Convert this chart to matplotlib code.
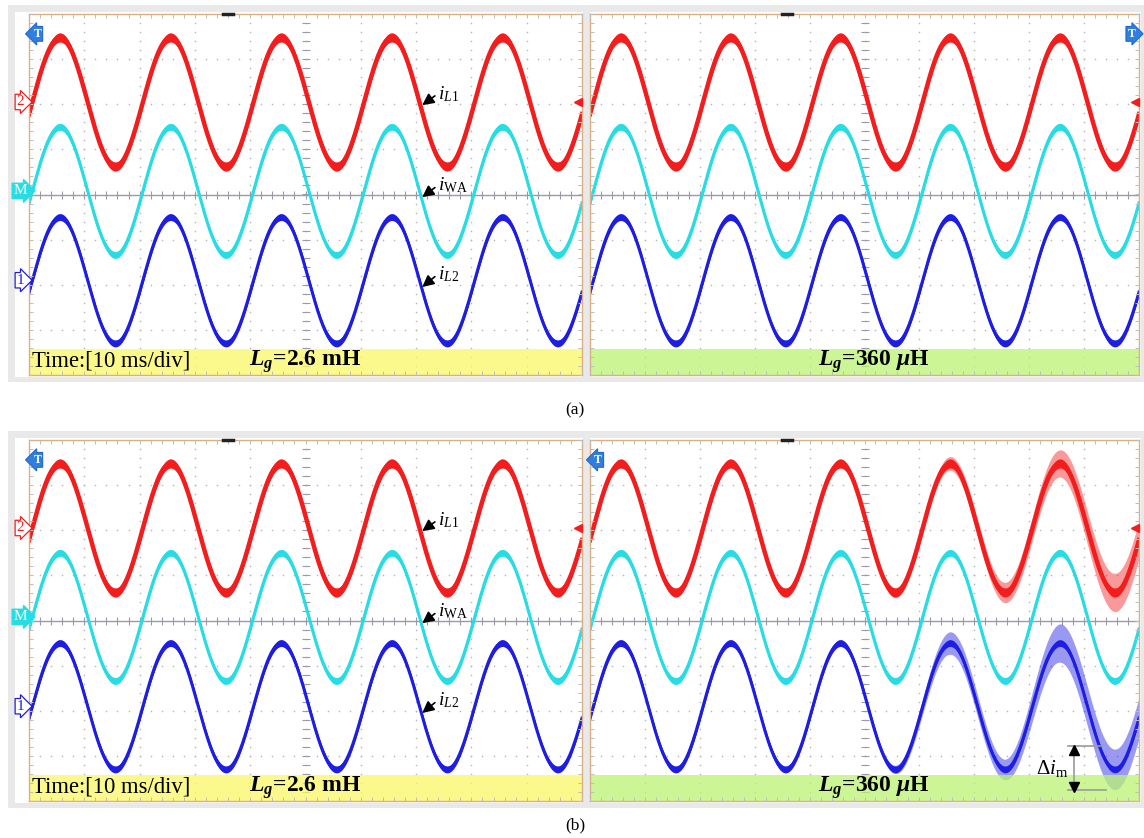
import numpy as np
import matplotlib.pyplot as plt
from matplotlib.patches import Rectangle

plt.rcParams['font.family'] = ['Liberation Serif', 'DejaVu Serif']
plt.rcParams['mathtext.fontset'] = 'custom'
plt.rcParams['mathtext.rm'] = 'Liberation Serif'
plt.rcParams['mathtext.it'] = 'Liberation Serif:italic'
plt.rcParams['mathtext.bf'] = 'Liberation Serif:italic:bold'

# scope settings: 10 ms/div, 10 x 8 divisions
screen_ms = 100
period_ms = 20.0          # 50 Hz grid current
first_peak_ms = 5.6

trace_labels = [r'$i_{L1}$', r'$i_{\mathrm{WA}}$', r'$i_{L2}$']
channel_tags = ['2', 'M', '1']
trace_colors = ['#f31d1d', '#27dde3', '#1d1de3']
trace_widths = [3.2, 2.2, 2.2]
amplitude_div = [1.43, 1.42, 1.40]
offset_div = [2.05, 0.08, -1.90]

# peak-to-peak switching ripple (div) at every peak / trough on the screen
extremum_ms = [5.6, 15.6, 25.6, 35.6, 45.6, 55.6, 65.6, 75.6, 85.6, 95.6]
ripple_iL1 = [0.20, 0.20, 0.20, 0.20, 0.20, 0.20, 0.20, 0.20, 0.20, 0.20]
ripple_iWA = [0.15, 0.15, 0.15, 0.15, 0.15, 0.15, 0.15, 0.15, 0.15, 0.15]
ripple_iL2 = [0.15, 0.15, 0.15, 0.15, 0.15, 0.15, 0.15, 0.15, 0.15, 0.15]
# case (b), Lg = 360 uH: ripple grows at the end of the record
ripple_b360_iL1 = [0.20, 0.20, 0.20, 0.20, 0.20, 0.22, 0.30, 0.45, 0.60, 0.85]
ripple_b360_iWA = [0.15, 0.15, 0.15, 0.15, 0.15, 0.15, 0.15, 0.15, 0.15, 0.15]
ripple_b360_iL2 = [0.15, 0.15, 0.15, 0.15, 0.15, 0.18, 0.50, 0.45, 0.85, 0.90]

inductance_labels = [r'$\mathbf{L_g}$=2.6 mH', r'$\mathbf{L_g}$=360 $\mathbf{\mu}$H']
bar_colors = ['#fbf866', '#bbf373']
panel_tags = ['(a)', '(b)']

W, H = 1144, 838
fig = plt.figure(figsize=(W / 100, H / 100), dpi=100)

bg = fig.add_axes([0, 0, 1, 1])
bg.set_xlim(0, W)
bg.set_ylim(H, 0)
bg.axis('off')

grid_c = '#b6b6b6'
center_c = '#9a9aaa'


def draw_screen(ax, ripples, side, t_side, lg_x):
    ax.set_xlim(0, screen_ms)
    ax.set_ylim(-4, 4)
    for s in ax.spines.values():
        s.set_color('#dcae84')
        s.set_linewidth(1.0)
        s.set_zorder(6)
    sub_x = np.arange(0, screen_ms + 0.1, 2)
    sub_y = np.arange(-4, 4.01, 0.2)
    ax.set_xticks(sub_x)
    ax.set_yticks(sub_y)
    ax.tick_params(direction='in', length=3, width=0.7, color='#bdbdbd', top=True,
                   right=True, labelbottom=False, labelleft=False)
    ax.xaxis.set_zorder(6)
    ax.yaxis.set_zorder(6)

    # dotted graticule
    for gx in range(10, 100, 10):
        ax.scatter(np.full(sub_y.size, gx), sub_y, s=1.3, c=grid_c, lw=0, zorder=1)
    for gy in (-3, -2, -1, 1, 2, 3):
        ax.scatter(sub_x, np.full(sub_x.size, gy), s=1.3, c=grid_c, lw=0, zorder=1)
    ax.axhline(0, color=center_c, lw=1, zorder=1)
    ax.plot(sub_x, np.zeros(sub_x.size), ls='none', marker='|', ms=6, mew=0.8,
            color=center_c, zorder=1)
    ax.plot(np.full(sub_y.size, 50), sub_y, ls='none', marker='_', ms=6, mew=0.8,
            color=center_c, zorder=1)

    # traces
    t = np.linspace(0, screen_ms, 2000)
    for k in range(3):
        y = offset_div[k] + amplitude_div[k] * np.cos(2 * np.pi * (t - first_peak_ms) / period_ms)
        r = np.interp(t, extremum_ms, ripples[k])
        r0 = min(ripples[k])
        ax.fill_between(t, y - r / 2, y + r / 2, color=trace_colors[k], alpha=0.45, lw=0, zorder=3)
        ax.fill_between(t, y - r0 / 2, y + r0 / 2, color=trace_colors[k], lw=0, zorder=3)
        ax.plot(t, y, color=trace_colors[k], lw=trace_widths[k], zorder=3)

    # bottom status bar
    ax.axhspan(-4, -3.42, color=bar_colors[side], alpha=0.75, lw=0, zorder=5)
    ax.text(lg_x, -3.70, inductance_labels[side], ha='center', va='center',
            fontsize=17, fontweight='bold', zorder=7)

    # channel 2 offset marker on the right edge
    ax.plot(99.2, offset_div[0], marker='<', ms=6, color=trace_colors[0],
            clip_on=False, zorder=7)
    # trigger marker
    if t_side == 'left':
        ax.text(1.5, 3.56, 'T', ha='center', va='center', fontsize=8.5, fontweight='bold',
                color='white', zorder=7,
                bbox=dict(boxstyle='larrow,pad=0.12', fc='#2f7fe2', ec='#2368c8', lw=0.8))
    else:
        ax.text(98.6, 3.56, 'T', ha='center', va='center', fontsize=8.5, fontweight='bold',
                color='white', zorder=7, clip_on=False,
                bbox=dict(boxstyle='rarrow,pad=0.12', fc='#2f7fe2', ec='#2368c8', lw=0.8))
    # small status mark on the top edge
    ax.plot([0.35, 0.368], [1.0, 1.0], transform=ax.transAxes, color='#222222', lw=2.5,
            clip_on=False, zorder=7)


caption_y = [410, 825]
for p, dy in enumerate([0, 426]):
    bg.add_patch(Rectangle((8, 5 + dy), 1136, 377, fc='#e9e9e9', lw=0))
    bg.add_patch(Rectangle((15, 12 + dy), 568, 365, fc='white', lw=0))
    bg.add_patch(Rectangle((590, 12 + dy), 551, 365, fc='white', lw=0))
    bg.text(575, caption_y[p], panel_tags[p], ha='center', va='center', fontsize=12.5)

    # left screen: Lg = 2.6 mH
    x0, x1, y0, y1 = 29, 582, 14 + dy, 375 + dy
    ax = fig.add_axes([x0 / W, 1 - y1 / H, (x1 - x0) / W, (y1 - y0) / H])
    draw_screen(ax, [ripple_iL1, ripple_iWA, ripple_iL2], 0, 'left', 50)
    ax.text(0.6, -3.70, 'Time:[10 ms/div]', ha='left', va='center', fontsize=16.3, zorder=7)
    for k in range(3):
        ax.text(-1.6, offset_div[k], channel_tags[k], ha='center', va='center', fontsize=11,
                color=trace_colors[k] if k != 1 else 'white', clip_on=False, zorder=7,
                bbox=dict(boxstyle='rarrow,pad=0.08', lw=0.9, ec=trace_colors[k],
                          fc='white' if k != 1 else trace_colors[k]))
    head_y = [1.98, -0.06, -2.05]
    text_y = [2.23, 0.20, -1.77]
    for k in range(3):
        ax.annotate(trace_labels[k], xy=(71.1, head_y[k]), xytext=(73.9, text_y[k]),
                    ha='left', va='center', fontsize=14, zorder=8,
                    arrowprops=dict(arrowstyle='-|>,head_length=0.5,head_width=0.25',
                                    color='black', lw=1.2, shrinkA=0, shrinkB=0,
                                    relpos=(0, 0.5)))

    # right screen: Lg = 360 uH
    x0, x1 = 590, 1139
    ax = fig.add_axes([x0 / W, 1 - y1 / H, (x1 - x0) / W, (y1 - y0) / H])
    if p == 0:
        draw_screen(ax, [ripple_iL1, ripple_iWA, ripple_iL2], 1, 'right', 51.7)
    else:
        draw_screen(ax, [ripple_b360_iL1, ripple_b360_iWA, ripple_b360_iL2], 1, 'left', 51.7)
        # ripple amplitude marker
        ax.plot([87.1, 93.3], [-2.78, -2.78], color='#9a9a9a', lw=1.2, zorder=8)
        ax.plot([87.1, 93.9], [-3.76, -3.76], color='#9a9a9a', lw=1.2, zorder=8)
        ax.plot([88.2, 88.2], [-2.86, -3.68], color='#9a9a9a', lw=1.2, zorder=8)
        ax.plot(88.2, -2.86, marker='^', ms=7, color='black', zorder=9)
        ax.plot(88.2, -3.68, marker='v', ms=7, color='black', zorder=9)
        ax.text(87.2, -3.28, r'$\Delta i_{\mathrm{m}}$', ha='right', va='center',
                fontsize=15, zorder=9)

fig.savefig('out.png', dpi=100)
